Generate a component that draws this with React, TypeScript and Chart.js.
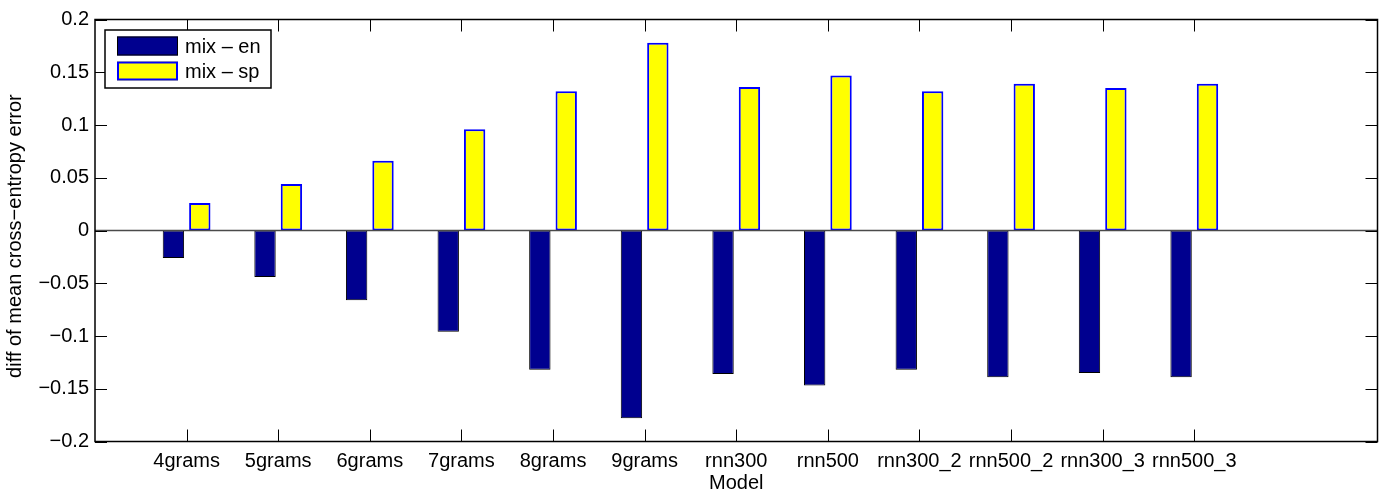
import React, { useEffect, useRef } from 'react';
import { Chart, registerables } from 'chart.js';

Chart.register(...registerables);

const categories = ['4grams', '5grams', '6grams', '7grams', '8grams', '9grams', 'rnn300', 'rnn500', 'rnn300_2', 'rnn500_2', 'rnn300_3', 'rnn500_3'];
const mixEn = [-0.026, -0.044, -0.066, -0.096, -0.132, -0.178, -0.136, -0.147, -0.132, -0.139, -0.135, -0.139];
const mixSp = [0.026, 0.044, 0.066, 0.096, 0.132, 0.178, 0.136, 0.147, 0.132, 0.139, 0.135, 0.139];
const seriesNames = ['mix \u2013 en', 'mix \u2013 sp'];
const yTickValues = [-0.2, -0.15, -0.1, -0.05, 0, 0.05, 0.1, 0.15, 0.2];
const yTickLabels = ['\u22120.2', '\u22120.15', '\u22120.1', '\u22120.05', '0', '0.05', '0.1', '0.15', '0.2'];
const xTitle = 'Model';
const yTitle = 'diff of mean cross\u2212entropy error\u00A0\u00A0';

const FONT_FAMILY = '"Liberation Sans", Arial, Helvetica, sans-serif';
const FONT_SIZE = 20;

const framePlugin = {
  id: 'matlabFrame',
  afterDatasetsDraw(chart: any) {
    const { ctx, chartArea, scales } = chart;
    const { left, right } = chartArea;
    ctx.save();
    const y0 = scales.y.getPixelForValue(0);
    ctx.strokeStyle = '#4a4a4a';
    ctx.lineWidth = 1.5;
    ctx.beginPath();
    ctx.moveTo(left, y0);
    ctx.lineTo(right, y0);
    ctx.stroke();
    ctx.restore();
  },
  afterDraw(chart: any) {
    const { ctx, chartArea, scales } = chart;
    const { left, right, top, bottom } = chartArea;
    ctx.save();
    ctx.strokeStyle = '#000';
    ctx.lineWidth = 1.5;
    ctx.strokeRect(left, top, right - left, bottom - top);
    ctx.lineWidth = 1;
    const tl = 12;
    ctx.beginPath();
    categories.forEach((_, i) => {
      const x = Math.round(scales.x.getPixelForValue(i + 1)) + 0.5;
      ctx.moveTo(x, bottom);
      ctx.lineTo(x, bottom - tl);
      ctx.moveTo(x, top);
      ctx.lineTo(x, top + tl);
    });
    yTickValues.forEach((v) => {
      const y = Math.round(scales.y.getPixelForValue(v)) + 0.5;
      ctx.moveTo(left, y);
      ctx.lineTo(left + tl, y);
      ctx.moveTo(right, y);
      ctx.lineTo(right - tl, y);
    });
    ctx.stroke();

    // legend
    const lx = left + 10;
    const ly = top + 10.5;
    const lw = 166;
    const lh = 58;
    ctx.fillStyle = '#fff';
    ctx.fillRect(lx, ly, lw, lh);
    ctx.strokeStyle = '#000';
    ctx.lineWidth = 1.5;
    ctx.strokeRect(lx, ly, lw, lh);
    const ds = chart.data.datasets;
    const rows = [ly + 16, ly + 41];
    ds.forEach((d: any, i: number) => {
      const cy = rows[i];
      const sx = lx + 12;
      const sw = 61;
      const sh = 19;
      ctx.fillStyle = d.backgroundColor;
      ctx.fillRect(sx, cy - sh / 2, sw, sh);
      ctx.strokeStyle = d.borderColor;
      ctx.lineWidth = d.borderWidth;
      ctx.strokeRect(sx + d.borderWidth / 2, cy - sh / 2 + d.borderWidth / 2, sw - d.borderWidth, sh - d.borderWidth);
      ctx.fillStyle = '#000';
      ctx.font = `${FONT_SIZE}px ${FONT_FAMILY}`;
      ctx.textBaseline = 'middle';
      ctx.textAlign = 'left';
      ctx.fillText(d.label, sx + sw + 7, cy + 1);
    });
    ctx.restore();
  },
};

export default function App() {
  const canvasRef = useRef<HTMLCanvasElement>(null);

  useEffect(() => {
    document.body.style.margin = '0';
    const canvas = canvasRef.current;
    if (!canvas) return;
    const font = { family: FONT_FAMILY, size: FONT_SIZE };
    const chart = new Chart(canvas, {
      type: 'bar',
      data: {
        datasets: [
          {
            label: seriesNames[0],
            data: mixEn.map((v, i) => ({ x: i + 1, y: v })),
            backgroundColor: '#00008F',
            borderColor: '#000000',
            borderWidth: 1,
            borderSkipped: false,
            categoryPercentage: 0.576,
            barPercentage: 0.81,
          },
          {
            label: seriesNames[1],
            data: mixSp.map((v, i) => ({ x: i + 1, y: v })),
            backgroundColor: '#FFFF00',
            borderColor: '#0000FF',
            borderWidth: 2,
            borderSkipped: false,
            categoryPercentage: 0.576,
            barPercentage: 0.81,
          },
        ],
      } as any,
      options: {
        animation: false,
        responsive: false,
        devicePixelRatio: 1,
        layout: { padding: { left: 0, right: 6.5, top: 19.5, bottom: 0 } },
        plugins: {
          legend: { display: false },
          tooltip: { enabled: false },
        },
        scales: {
          x: {
            type: 'linear',
            offset: false,
            min: 0,
            max: 14,
            grid: { display: false, drawTicks: false, offset: false },
            border: { display: false },
            afterBuildTicks: (s: any) => {
              s.ticks = categories.map((_, i) => ({ value: i + 1 }));
            },
            afterFit: (s: any) => {
              s.height = 51.5;
            },
            ticks: {
              autoSkip: false,
              maxRotation: 0,
              minRotation: 0,
              padding: 8,
              color: '#000',
              font,
              callback: (_v: any, i: number) => categories[i],
            },
            title: {
              display: true,
              text: xTitle,
              color: '#000',
              font: { ...font, lineHeight: 1 },
              padding: { top: 0, bottom: 0 },
            },
          },
          y: {
            min: -0.2,
            max: 0.2,
            grid: { display: false, drawTicks: false },
            border: { display: false },
            afterBuildTicks: (s: any) => {
              s.ticks = yTickValues.map((v) => ({ value: v }));
            },
            afterFit: (s: any) => {
              s.width = 95;
            },
            ticks: {
              autoSkip: false,
              padding: 6,
              color: '#000',
              font,
              callback: (_v: any, i: number) => yTickLabels[i],
            },
            title: {
              display: true,
              text: yTitle,
              color: '#000',
              font: { ...font, lineHeight: 1 },
              padding: { top: 5, bottom: 0 },
            },
          },
        },
      } as any,
      plugins: [framePlugin],
    });
    return () => chart.destroy();
  }, []);

  return (
    <div style={{ width: 1384, height: 493, background: '#fff' }}>
      <canvas ref={canvasRef} width={1384} height={493} style={{ display: 'block' }} />
    </div>
  );
}
